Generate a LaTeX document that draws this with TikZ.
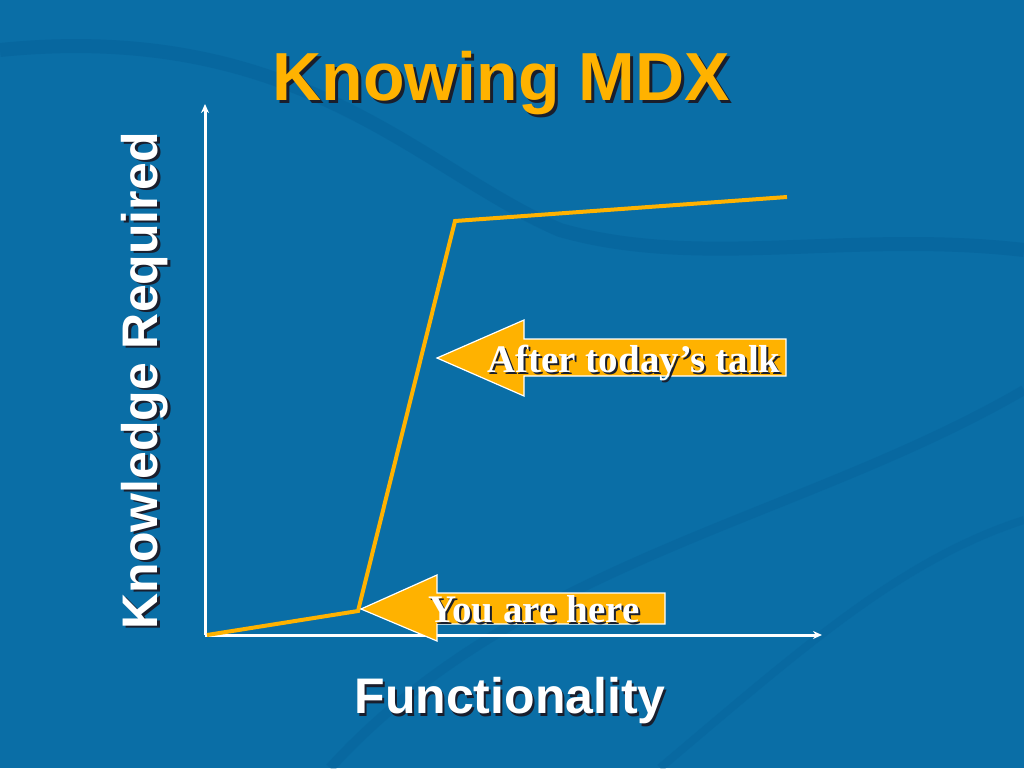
\documentclass[tikz,border=0pt]{standalone}
\usepackage{fontspec}
\setmainfont{Liberation Serif}
\setsansfont{Liberation Sans}
\usepackage{tikz}
\usepackage{xcolor}
\usetikzlibrary{arrows.meta}
\definecolor{bgblue}{RGB}{10,110,166}
\definecolor{wave}{RGB}{4,92,148}
\definecolor{mdxorange}{RGB}{255,178,0}
\definecolor{shadowc}{RGB}{25,30,45}
\tikzset{
  axis/.style={white,line width=3pt,-{Stealth[length=9pt,width=8pt]}},
  curve/.style={mdxorange,line width=4pt,line join=miter},
  tag/.style={fill=mdxorange,draw=white,line width=1.2pt,line join=miter},
  heading/.style={font=\sffamily\bfseries\fontsize{68}{70}\selectfont,anchor=base},
  axislabel/.style={font=\sffamily\bfseries\fontsize{50}{52}\selectfont,anchor=base,white},
  tagtext/.style={font=\rmfamily\bfseries\fontsize{39}{41}\selectfont,anchor=base,white},
  drop/.style={shadowc,anchor=base}
}
\begin{document}
\begin{tikzpicture}[x=1pt,y=-1pt]
  \clip (0,0) rectangle (1024,768);
  \fill[bgblue] (0,0) rectangle (1024,768);
  \draw[wave,line width=14pt,opacity=0.35] (0,50) .. controls (300,20) and (420,170) .. (560,230) .. controls (700,270) and (850,230) .. (1024,250);
  \draw[wave,line width=10pt,opacity=0.3] (330,768) .. controls (520,560) and (800,520) .. (1024,390);
  \draw[wave,line width=8pt,opacity=0.25] (660,768) .. controls (800,650) and (900,560) .. (1024,520);
  % axes
  \coordinate (O) at (205,635); \coordinate (ytop) at (205,104); \coordinate (xend) at (822,635);
  \draw[axis] (O) -- (ytop); \draw[axis] (O) -- (xend);
  % knowledge curve
  \coordinate (p0) at (207,635); \coordinate (p1) at (358,611); \coordinate (p2) at (455,221); \coordinate (p3) at (787,197);
  \draw[curve] (p0) -- (p1) -- (p2) -- (p3);
  % tags
  \draw[tag] (437,358) -- (524,320) -- (524,339) -- (786,339) -- (786,376) -- (524,376) -- (524,396) -- cycle;
  \draw[tag] (361,609) -- (437,575) -- (437,593) -- (665,593) -- (665,624) -- (437,624) -- (437,641) -- cycle;
  \node[tagtext,drop] (aftersh) at (636,374) {After today’s talk}; \node[tagtext] (after) at (634,372) {After today’s talk};
  \node[tagtext,drop] (heresh) at (536,624) {You are here}; \node[tagtext] (here) at (534,622) {You are here};
  % labels
  \node[heading,drop] (titlesh) at (504,103) {Knowing MDX}; \node[heading,mdxorange] (title) at (501,100) {Knowing MDX};
  \node[axislabel,drop,rotate=90] (ylabsh) at (160,383) {Knowledge Required}; \node[axislabel,rotate=90] (ylab) at (157,381) {Knowledge Required};
  \node[axislabel,drop] (xlabsh) at (512,716) {Functionality}; \node[axislabel] (xlab) at (510,713) {Functionality};
\end{tikzpicture}
\end{document}
